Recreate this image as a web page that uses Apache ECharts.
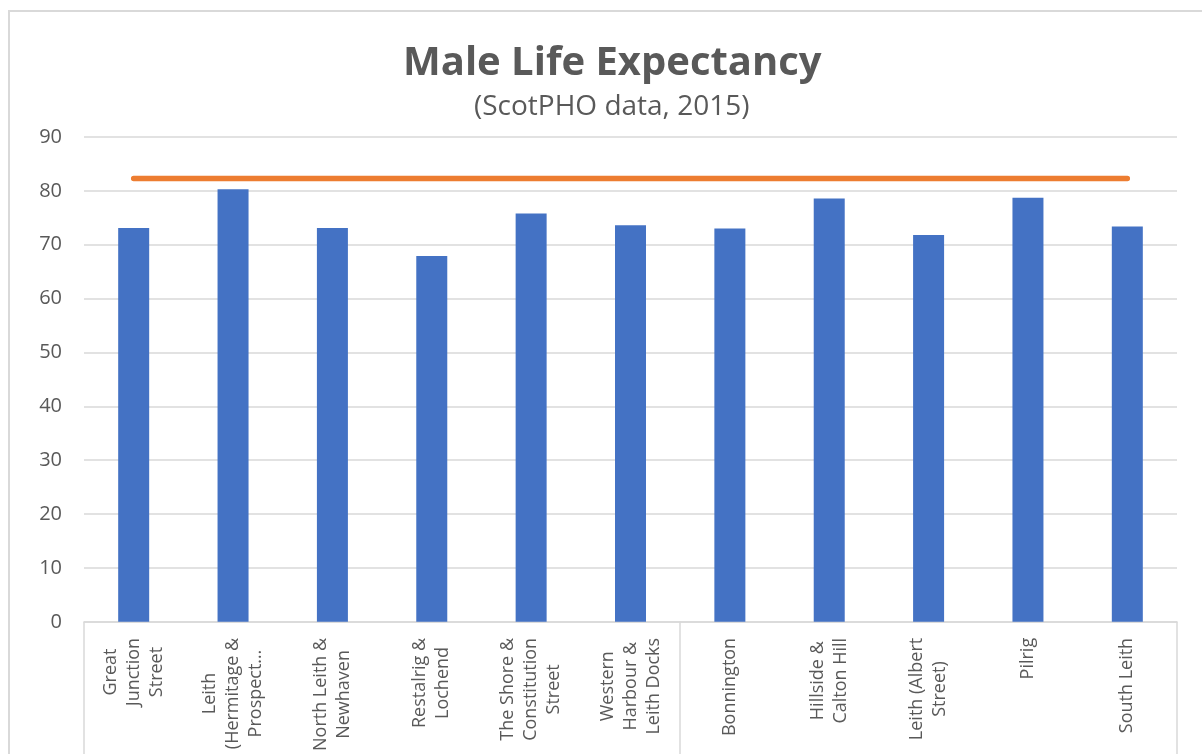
<!DOCTYPE html>
<html>
<head>
<meta charset="utf-8">
<title>Male Life Expectancy</title>
<script src="https://cdn.jsdelivr.net/npm/echarts@6/dist/echarts.min.js"></script>
<style>
    html, body { margin: 0; padding: 0; background: #fff; }
    #life_expectancy { width: 1202px; height: 754px; }
</style>
</head>
<body>
<div id="life_expectancy"></div>
<script>

// Data
// ------------------------------

var areas = [
    'Great\nJunction\nStreet',
    'Leith\n(Hermitage &\nProspect\u2026',
    'North Leith &\nNewhaven',
    'Restalrig &\nLochend',
    'The Shore &\nConstitution\nStreet',
    'Western\nHarbour &\nLeith Docks',
    'Bonnington',
    'Hillside &\nCalton Hill',
    'Leith (Albert\nStreet)',
    'Pilrig',
    'South Leith'
];

var maleLifeExpectancy = [73.1, 80.3, 73.1, 67.9, 75.8, 73.6, 73.0, 78.6, 71.8, 78.7, 73.4];

var referenceLine = [82.3, 82.3, 82.3, 82.3, 82.3, 82.3, 82.3, 82.3, 82.3, 82.3, 82.3];

var yTicks = { min: 0, max: 90, interval: 10 };


// Chart
// ------------------------------

document.addEventListener('DOMContentLoaded', function() {
    var element = document.getElementById('life_expectancy');
    var chart = echarts.init(element);

    chart.setOption({
        animation: false,
        textStyle: {
            fontFamily: '"Open Sans", sans-serif',
            color: '#595959'
        },

        // Chart frame
        graphic: [{
            type: 'rect',
            shape: { x: 9, y: 11, width: 1300, height: 800 },
            style: { fill: 'none', stroke: '#d9d9d9', lineWidth: 2 },
            silent: true
        }],

        // Title sits centred on the (wider) chart area, a little right of the canvas centre
        title: [{
            text: 'Male Life Expectancy',
            left: 403,
            top: 44,
            padding: 0,
            textStyle: { fontSize: 40, fontWeight: 'bold', color: '#595959' }
        }, {
            text: '(ScotPHO data, 2015)',
            left: 474,
            top: 93,
            padding: 0,
            textStyle: { fontSize: 28, fontWeight: 'normal', color: '#595959' }
        }],

        grid: {
            left: 84,
            right: 25,
            top: 137,
            bottom: 132
        },

        xAxis: {
            type: 'category',
            data: areas,
            axisLine: { lineStyle: { color: '#d9d9d9', width: 1.5 } },
            axisTick: {
                show: true,
                length: 140,
                interval: function(index) { return index === 0 || index === 6; },
                lineStyle: { color: '#d9d9d9', width: 1.5 }
            },
            axisLabel: {
                rotate: 90,
                interval: 0,
                margin: 16,
                fontSize: 18,
                lineHeight: 23,
                color: '#595959',
                formatter: function(value) {
                    return value.split('\n').map(function(line) {
                        return '{c|' + line + '}';
                    }).join('\n');
                },
                rich: {
                    c: { align: 'center', fontSize: 18, lineHeight: 23, color: '#595959' }
                }
            }
        },

        yAxis: {
            type: 'value',
            min: yTicks.min,
            max: yTicks.max,
            interval: yTicks.interval,
            axisLine: { show: false },
            axisTick: { show: false },
            axisLabel: { fontSize: 20, margin: 22, color: '#595959' },
            splitLine: { lineStyle: { color: '#d9d9d9', width: 1.5 } }
        },

        series: [{
            name: 'Male life expectancy',
            type: 'bar',
            data: maleLifeExpectancy,
            barWidth: 31,
            itemStyle: { color: '#4472c4' }
        }, {
            name: 'Reference',
            type: 'line',
            data: referenceLine,
            symbol: 'none',
            lineStyle: { color: '#ed7d31', width: 5.5, cap: 'round' },
            itemStyle: { color: '#ed7d31' }
        }]
    });
});
</script>
</body>
</html>
